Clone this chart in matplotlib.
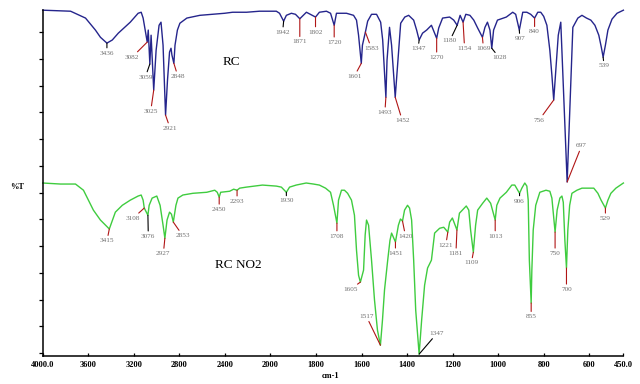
import numpy as np
import matplotlib
matplotlib.use('Agg')
import matplotlib.pyplot as plt

# ---------------- data ----------------
RC_WN = [4000, 3755, 3624, 3537, 3493, 3436, 3389, 3336, 3231, 3162, 3135, 3118, 3082, 3073, 3059,
         3048, 3025, 3004, 2978, 2961, 2943, 2921, 2904, 2886, 2873, 2865, 2848, 2838, 2817, 2795,
         2734, 2620, 2507, 2402, 2332, 2210, 2096, 1974, 1960, 1942, 1930, 1908, 1890, 1871, 1842,
         1802, 1785, 1754, 1736, 1720, 1710, 1666, 1635, 1622, 1613, 1601, 1596, 1583, 1573, 1556,
         1534, 1516, 1507, 1493, 1488, 1477, 1468, 1452, 1440, 1428, 1410, 1393, 1371, 1358, 1347,
         1332, 1314, 1293, 1270, 1261, 1244, 1213, 1195, 1180, 1167, 1154, 1142, 1124, 1107, 1090,
         1069, 1058, 1047, 1036, 1028, 1020, 1003, 964, 936, 923, 907, 892, 874, 857, 840,
         826, 813, 800, 786, 773, 764, 756, 747, 736, 725, 697, 672, 650, 632, 612,
         593, 575, 558, 547, 539, 529, 518, 500, 478, 450]
RC_T = [100.0, 99.7, 97.7, 94.2, 92.1, 90.4, 91.3, 93.3, 96.5, 99.1, 99.4, 97.7, 90.7, 94.2, 84.3,
        92.7, 76.7, 88.3, 95.6, 96.5, 89.8, 69.4, 79.6, 87.8, 88.9, 86.9, 84.5, 89.8, 94.2, 96.2,
        97.7, 98.5, 98.8, 99.1, 99.4, 99.4, 99.7, 99.7, 99.1, 96.8, 98.5, 99.1, 98.8, 97.5, 99.4,
        98.0, 99.4, 99.7, 99.1, 95.6, 99.1, 99.1, 98.5, 97.1, 92.7, 84.5, 89.8, 93.6, 96.8, 98.8,
        98.8, 96.5, 91.3, 74.6, 85.4, 95.0, 89.8, 74.6, 85.4, 96.2, 98.0, 98.5, 97.1, 94.2, 91.3,
        93.3, 94.2, 95.6, 91.8, 94.8, 97.7, 98.0, 97.1, 95.6, 98.5, 96.5, 98.8, 98.5, 97.1, 94.8,
        92.1, 95.0, 96.5, 94.2, 88.9, 94.2, 97.1, 98.0, 99.4, 98.8, 94.2, 99.4, 99.4, 98.8, 97.7,
        99.4, 99.4, 98.2, 95.6, 88.3, 81.0, 73.8, 82.5, 92.7, 96.5, 49.9, 95.0, 97.7, 98.5, 97.7,
        97.1, 95.6, 92.7, 89.2, 86.3, 89.8, 94.2, 97.4, 99.1, 100.0]

NO2_WN = [4000, 3843, 3712, 3642, 3555, 3493, 3415, 3362, 3301, 3231, 3162, 3135, 3118, 3108, 3076,
          3065, 3039, 2998, 2969, 2943, 2927, 2908, 2886, 2869, 2853, 2830, 2812, 2769, 2681, 2559,
          2489, 2467, 2450, 2437, 2358, 2323, 2293, 2270, 2212, 2070, 1974, 1952, 1930, 1916, 1887,
          1843, 1811, 1785, 1758, 1736, 1723, 1708, 1701, 1688, 1675, 1661, 1644, 1631, 1622, 1613,
          1605, 1591, 1584, 1578, 1569, 1556, 1543, 1530, 1517, 1508, 1499, 1485, 1475, 1468, 1451,
          1438, 1429, 1420, 1411, 1398, 1389, 1380, 1371, 1362, 1347, 1336, 1323, 1310, 1293, 1279,
          1257, 1239, 1221, 1213, 1201, 1181, 1170, 1140, 1129, 1121, 1109, 1099, 1090, 1068, 1050,
          1033, 1013, 1006, 992, 964, 940, 927, 906, 896, 883, 874, 868, 863, 855, 852,
          846, 835, 817, 790, 773, 764, 758, 750, 741, 729, 720, 714, 707, 700, 694,
          686, 676, 654, 632, 601, 580, 562, 548, 529, 518, 505, 483, 450]
NO2_T = [49.6, 49.3, 49.3, 47.5, 41.7, 38.8, 36.2, 41.1, 43.1, 44.6, 45.8, 46.1, 44.6, 42.3, 40.2,
         43.1, 45.2, 45.8, 43.1, 37.3, 33.5, 38.8, 41.1, 40.5, 38.2, 43.1, 45.2, 46.1, 46.6, 46.9,
         47.5, 46.9, 45.5, 46.9, 47.2, 47.8, 47.5, 48.1, 48.4, 49.0, 48.7, 48.4, 46.9, 48.4, 49.0,
         49.6, 49.3, 49.0, 48.1, 46.9, 43.1, 37.9, 44.6, 47.5, 47.5, 46.6, 44.6, 40.2, 30.0, 22.7,
         20.7, 24.2, 34.4, 38.8, 37.3, 27.1, 15.5, 6.7, 2.3, 9.6, 18.4, 27.1, 32.9, 35.0, 32.4,
         37.3, 39.1, 38.5, 41.7, 43.1, 42.3, 38.8, 27.1, 12.5, -0.3, 9.6, 19.8, 24.8, 27.1, 35.0,
         36.4, 36.7, 35.3, 38.2, 39.4, 35.9, 40.8, 42.9, 41.7, 35.9, 29.4, 37.3, 41.7, 43.7, 45.2,
         43.7, 38.8, 43.1, 45.2, 46.9, 49.0, 49.0, 46.6, 48.1, 49.6, 48.7, 44.6, 27.1, 14.6, 24.2,
         35.9, 43.1, 46.9, 47.5, 47.2, 45.2, 41.0, 35.3, 41.7, 45.2, 45.8, 44.0, 32.9, 24.8, 35.9,
         43.1, 46.6, 47.5, 48.1, 48.1, 48.1, 46.6, 44.6, 42.3, 44.6, 46.6, 48.1, 49.6]

RC_PEAKS = [3436, 3082, 3059, 3025, 2921, 2848, 1942, 1871, 1802, 1720, 1601, 1583, 1493,
            1452, 1347, 1270, 1180, 1154, 1069, 1028, 907, 840, 756, 697, 539]
NO2_PEAKS = [3415, 3108, 3076, 2927, 2853, 2450, 2293, 1930, 1708, 1605, 1517, 1451,
             1420, 1347, 1221, 1181, 1109, 1013, 906, 855, 750, 700, 529]

XTICKS = [4000, 3600, 3200, 2800, 2400, 2000, 1800, 1600, 1400, 1200, 1000, 800, 600, 450]
XTICKLABELS = ['4000.0', '3600', '3200', '2800', '2400', '2000', '1800', '1600', '1400',
               '1200', '1000', '800', '600', '450.0']

# ---------------- layout (label offsets in pixels, leader colour) ----------------
RED = '#b01515'
RC_LAYOUT = [(0, -10, 'k'), (-15, -15, RED), (-4.5, -13, 'k'), (-3, -21, RED), (4.5, -13, RED),
             (4, -13, RED), (-1, -11, 'k'), (0, -23, RED), (0, -15, RED), (0, -17, RED),
             (-7, -13, RED), (6, -16, RED), (-1, -15, RED), (7, -23, RED), (-1, -8.5, 'k'),
             (0, -19, RED), (-7.5, -15.7, 'k'), (1.5, -26, RED), (1, -11, RED), (7.5, -9.5, 'k'),
             (0.5, -8.5, 'k'), (0, -13.7, RED), (-14.6, -20, RED), (14.4, 36, RED), (1, -8.7, 'k')]
NO2_LAYOUT = [(-2.3, -11.7, RED), (-11.4, -10.3, RED), (0.4, -21, 'k'), (-1.5, -15.3, RED),
              (9.4, -13.5, RED), (0, -12.3, RED), (0, -11, RED), (0, -8.7, 'k'), (0, -13, RED),
              (-10.3, -7.3, RED), (-14.1, 29, RED), (0, -11.3, RED), (3, -15, RED),
              (17.8, 20.7, 'k'), (-2, -13, RED), (-1, -23.3, RED), (-2, -10.7, RED),
              (0, -16, RED), (0, -7.7, 'k'), (0, -13.7, RED), (0, -21.3, RED), (0, -21.3, RED),
              (0, -10.3, RED)]

SERIF = ['Liberation Serif', 'DejaVu Serif']
W, H = 640, 384


def fwd(x):
    x = np.asarray(x, dtype=float)
    return np.where(x >= 2000, 2000 + (x - 2000) / 2.0, x)


def inv(u):
    u = np.asarray(u, dtype=float)
    return np.where(u >= 2000, 2000 + (u - 2000) * 2.0, u)


fig = plt.figure(figsize=(W / 100, H / 100), dpi=100)
fig.patch.set_facecolor('white')
ax = fig.add_axes([42.7 / W, (H - 355.5) / H, (623.4 - 42.7) / W, (355.5 - 9.5) / H])
ax.set_xscale('function', functions=(fwd, inv))
ax.set_xlim(4000, 450)
ax.set_ylim(-0.7, 100.2)

ax.plot(RC_WN, RC_T, color='#25258c', lw=1.0, solid_joinstyle='round', clip_on=False)
ax.plot(NO2_WN, NO2_T, color='#3fcc3f', lw=1.0, solid_joinstyle='round', clip_on=False)


def label_peaks(wn, T, peaks, layout):
    xs = np.asarray(wn, float)[::-1]
    ys = np.asarray(T, float)[::-1]
    for p, (dx, dy, c) in zip(peaks, layout):
        yp = float(np.interp(p, xs, ys))
        ax.annotate(str(p), xy=(p, yp), xytext=(dx, dy), textcoords='offset pixels',
                    ha='center', va='center', fontsize=5.2, color='#707070',
                    family=SERIF,
                    arrowprops=dict(arrowstyle='-', color=c, lw=0.8,
                                    shrinkA=0, shrinkB=0))


label_peaks(RC_WN, RC_T, RC_PEAKS, RC_LAYOUT)
label_peaks(NO2_WN, NO2_T, NO2_PEAKS, NO2_LAYOUT)

for s in ['top', 'right']:
    ax.spines[s].set_visible(False)
for s in ['left', 'bottom']:
    ax.spines[s].set_linewidth(1.1)
    ax.spines[s].set_color('black')

ax.set_xticks(XTICKS)
ax.set_xticklabels(XTICKLABELS)
ax.minorticks_off()
ax.set_yticks(np.arange(13) * 7.8)
ax.set_yticklabels([])
ax.tick_params(axis='y', direction='out', length=3, width=0.9)
ax.tick_params(axis='x', direction='in', length=2.5, width=0.9, pad=4)
for t in ax.get_xticklabels():
    t.set_fontfamily(SERIF)
    t.set_fontsize(6)
    t.set_fontweight('bold')

fig.text(231.7 / W, 1 - 62.3 / H, 'RC', ha='center', va='center', fontsize=9.5, family=SERIF)
fig.text(238.3 / W, 1 - 265 / H, 'RC NO2', ha='center', va='center', fontsize=9.5, family=SERIF)
fig.text(17 / W, 1 - 186.7 / H, '%T', ha='center', va='center', fontsize=6, fontweight='bold',
         family=SERIF)
fig.text(331 / W, 1 - 376 / H, 'cm-1', ha='center', va='center', fontsize=6, fontweight='bold',
         family=SERIF)

fig.savefig('out.png', dpi=100, facecolor='white')
